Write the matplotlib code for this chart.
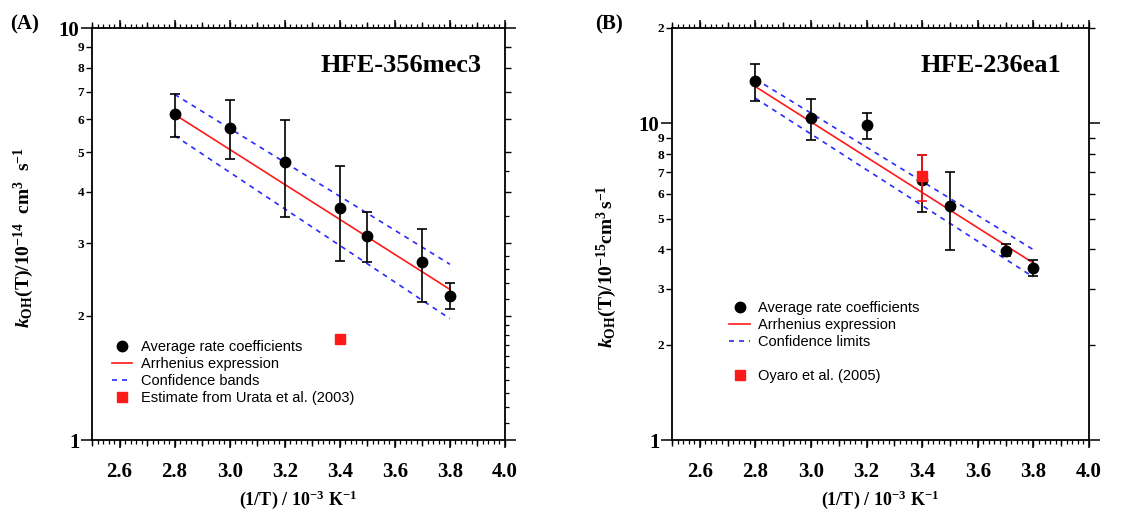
import numpy as np
import matplotlib
matplotlib.use("Agg")
import matplotlib.pyplot as plt
from matplotlib.ticker import FixedLocator, FixedFormatter, NullFormatter, NullLocator
from matplotlib.lines import Line2D

plt.rcParams['font.family'] = ['Liberation Serif', 'DejaVu Serif']
plt.rcParams['mathtext.fontset'] = 'custom'
plt.rcParams['mathtext.rm'] = 'Liberation Serif:bold'
plt.rcParams['mathtext.bf'] = 'Liberation Serif:bold'
plt.rcParams['mathtext.it'] = 'Liberation Serif:italic:bold'
plt.rcParams['mathtext.bfit'] = 'Liberation Serif:italic:bold'

# ---------------- data ----------------
# Panel A : HFE-356mec3 (k in 1e-14 cm3 s-1)
xA = [2.8, 3.0, 3.2, 3.4, 3.5, 3.7, 3.8]
kA = [6.17, 5.73, 4.72, 3.66, 3.13, 2.70, 2.24]
kA_hi = [6.90, 6.67, 5.98, 4.62, 3.57, 3.26, 2.41]
kA_lo = [5.43, 4.81, 3.48, 2.72, 2.70, 2.16, 2.08]
fitA_x = [2.8, 3.8]
fitA = [6.17, 2.32]
bandA_up = [6.90, 2.67]
bandA_lo = [5.48, 1.97]
uraA_x = [3.4]
uraA = [1.76]

# Panel B : HFE-236ea1 (k in 1e-15 cm3 s-1)
xB = [2.8, 3.0, 3.2, 3.4, 3.5, 3.7, 3.8]
kB = [13.6, 10.4, 9.86, 6.60, 5.49, 3.96, 3.49]
kB_hi = [15.4, 11.97, 10.75, 7.95, 7.03, 4.15, 3.69]
kB_lo = [11.8, 8.85, 8.94, 5.25, 3.97, 3.80, 3.29]
fitB_x = [2.8, 3.8]
fitB = [13.06, 3.62]
bandB_up = [13.8, 3.99]
bandB_lo = [12.0, 3.27]
oyaB_x = [3.4]
oyaB = [6.80]
oyaB_hi = [7.94]
oyaB_lo = [5.68]

xticks = [2.6, 2.8, 3.0, 3.2, 3.4, 3.6, 3.8, 4.0]
xtick_labels = ["2.6", "2.8", "3.0", "3.2", "3.4", "3.6", "3.8", "4.0"]

BLUE = '#2a2aff'
RED = '#ff1a1a'

W, H = 1146, 516
fig = plt.figure(figsize=(W / 100, H / 100), dpi=100)


def px_axes(l, r, t, b):
    return [l / W, (H - b) / H, (r - l) / W, (b - t) / H]


def style_axes(ax, fig, rect, ymax, minor_vals, minor_labels, right_extra):
    ax.set_xlim(2.5, 4.0)
    ax.set_yscale('log')
    ax.set_ylim(1, ymax)
    ax.xaxis.set_major_locator(FixedLocator(xticks))
    ax.xaxis.set_major_formatter(FixedFormatter(xtick_labels))
    ax.xaxis.set_minor_locator(FixedLocator(np.round(np.arange(2.5, 4.001, 0.02), 3)))
    ax.yaxis.set_major_locator(FixedLocator([1, 10]))
    ax.yaxis.set_major_formatter(FixedFormatter(["1", "10"]))
    ax.yaxis.set_minor_locator(FixedLocator(minor_vals))
    ax.yaxis.set_minor_formatter(FixedFormatter(minor_labels))
    ax.tick_params(axis='x', which='major', direction='out', top=True, bottom=True,
                   length=6, width=1.1, labelsize=15, pad=10)
    ax.tick_params(axis='x', which='minor', direction='out', top=True, bottom=True,
                   length=3, width=0.9)
    ax.tick_params(axis='y', which='major', direction='out', left=True, right=True,
                   length=8, width=1.1, labelsize=15, pad=1)
    ax.tick_params(axis='y', which='minor', direction='out', left=True, right=True,
                   length=4.5, width=1.0, labelsize=9.5, pad=1)
    for lab in ax.get_xticklabels() + ax.get_yticklabels() + ax.get_yticklabels(minor=True):
        lab.set_fontweight('bold')
    for s in ax.spines.values():
        s.set_linewidth(1.3)
    # overlay axis for intermediate x ticks (0.1 step) and extra right ticks
    ov = fig.add_axes(rect, frameon=False, zorder=-1)
    ov.set_xlim(2.5, 4.0)
    ov.set_yscale('log')
    ov.set_ylim(1, ymax)
    ov.xaxis.set_major_locator(FixedLocator(np.round(np.arange(2.5, 4.001, 0.1), 3)))
    ov.xaxis.set_major_formatter(NullFormatter())
    ov.xaxis.set_minor_locator(NullLocator())
    ov.yaxis.set_major_locator(FixedLocator(right_extra))
    ov.yaxis.set_major_formatter(NullFormatter())
    ov.yaxis.set_minor_locator(NullLocator())
    ov.yaxis.set_minor_formatter(NullFormatter())
    ov.tick_params(axis='x', direction='out', top=True, bottom=True, length=4.5, width=1.0)
    ov.tick_params(axis='y', direction='out', left=False, right=True, length=3, width=0.9)
    ov.patch.set_visible(False)


# ---------------- Panel A ----------------
rectA = px_axes(92, 505, 28, 440)
axA = fig.add_axes(rectA)
style_axes(axA, fig, rectA, 10, [2, 3, 4, 5, 6, 7, 8, 9],
           ["2", "3", "4", "5", "6", "7", "8", "9"],
           [1.1, 1.2, 1.3, 1.4, 1.5, 1.6, 1.7, 1.8, 1.9, 2.2, 2.4, 2.6, 2.8, 3.5, 4.5])

errA = [np.array(kA) - np.array(kA_lo), np.array(kA_hi) - np.array(kA)]
axA.plot(fitA_x, bandA_up, color=BLUE, lw=1.2, dashes=(3, 3), zorder=2)
axA.plot(fitA_x, bandA_lo, color=BLUE, lw=1.2, dashes=(3, 3), zorder=2)
axA.plot(fitA_x, fitA, color=RED, lw=1.2, zorder=3)
axA.errorbar(xA, kA, yerr=errA, fmt='o', color='black', ms=7.5, capsize=3.6,
             elinewidth=1.2, capthick=1.2, zorder=4)
axA.plot(uraA_x, uraA, 's', color=RED, ms=6.5, zorder=5)

handlesA = [
    Line2D([], [], marker='o', ls='none', color='black', ms=7.5),
    Line2D([], [], color=RED, lw=1.2),
    Line2D([], [], color=BLUE, lw=1.2, dashes=(3, 3)),
    Line2D([], [], marker='s', ls='none', color=RED, ms=6.5),
]
labelsA = ["Average rate coefficients", "Arrhenius expression", "Confidence bands",
           "Estimate from Urata et al. (2003)"]
axA.legend(handlesA, labelsA, loc='upper left', bbox_to_anchor=(0.03, 0.26),
           frameon=False, borderpad=0, labelspacing=0.2, handlelength=1.4,
           handletextpad=0.6, prop={'family': 'Liberation Sans', 'size': 10.5})

axA.text(0.944, 0.91, "HFE-356mec3", transform=axA.transAxes, ha='right', va='center',
         fontsize=19, fontweight='bold')
axA.set_xlabel(r'$\mathbf{(1/T)\ /\ 10^{-3}\ K^{-1}}$', fontsize=13)
axA.xaxis.set_label_coords(0.5, -0.118)
axA.set_ylabel(r'$\mathbfit{k}_{\mathbf{OH}}\mathbf{(T)/10^{-14}\ \ cm^{3}\ \ s^{-1}}$',
               fontsize=14)
axA.yaxis.set_label_coords(-0.135, 0.49)
fig.text(10 / W, 1 - 24 / H, "(A)", ha='left', va='center', fontsize=15, fontweight='bold')

# ---------------- Panel B ----------------
rectB = px_axes(672, 1089, 28, 440)
axB = fig.add_axes(rectB)
style_axes(axB, fig, rectB, 20, [2, 3, 4, 5, 6, 7, 8, 9, 20],
           ["2", "3", "4", "5", "6", "7", "8", "9", "2"], [])

errB = [np.array(kB) - np.array(kB_lo), np.array(kB_hi) - np.array(kB)]
axB.plot(fitB_x, bandB_up, color=BLUE, lw=1.2, dashes=(3, 3), zorder=2)
axB.plot(fitB_x, bandB_lo, color=BLUE, lw=1.2, dashes=(3, 3), zorder=2)
axB.plot(fitB_x, fitB, color=RED, lw=1.2, zorder=3)
axB.errorbar(xB, kB, yerr=errB, fmt='o', color='black', ms=7.5, capsize=3.6,
             elinewidth=1.2, capthick=1.2, zorder=4)
errO = [np.array(oyaB) - np.array(oyaB_lo), np.array(oyaB_hi) - np.array(oyaB)]
axB.errorbar(oyaB_x, oyaB, yerr=errO, fmt='s', color=RED, ms=6.5, capsize=3.6,
             elinewidth=1.2, capthick=1.2, zorder=5)

handlesB = [
    Line2D([], [], marker='o', ls='none', color='black', ms=7.5),
    Line2D([], [], color=RED, lw=1.2),
    Line2D([], [], color=BLUE, lw=1.2, dashes=(3, 3)),
    Line2D([], [], ls='none'),
    Line2D([], [], marker='s', ls='none', color=RED, ms=6.5),
]
labelsB = ["Average rate coefficients", "Arrhenius expression", "Confidence limits", " ",
           "Oyaro et al. (2005)"]
axB.legend(handlesB, labelsB, loc='upper left', bbox_to_anchor=(0.12, 0.355),
           frameon=False, borderpad=0, labelspacing=0.2, handlelength=1.4,
           handletextpad=0.6, prop={'family': 'Liberation Sans', 'size': 10.5})

axB.text(0.933, 0.91, "HFE-236ea1", transform=axB.transAxes, ha='right', va='center',
         fontsize=19, fontweight='bold')
axB.set_xlabel(r'$\mathbf{(1/T)\ /\ 10^{-3}\ K^{-1}}$', fontsize=13)
axB.xaxis.set_label_coords(0.5, -0.118)
axB.set_ylabel(r'$\mathbfit{k}_{\mathbf{OH}}\mathbf{(T)/10^{-15}cm^{3}\,s^{-1}}$', fontsize=14)
axB.yaxis.set_label_coords(-0.128, 0.42)
fig.text(595 / W, 1 - 24 / H, "(B)", ha='left', va='center', fontsize=15, fontweight='bold')

fig.savefig("out.png", dpi=100)
